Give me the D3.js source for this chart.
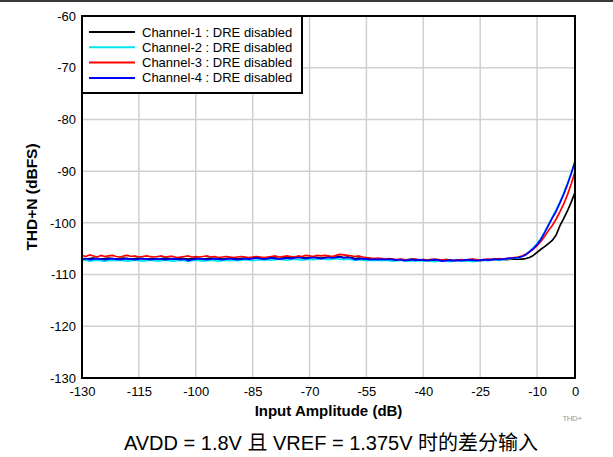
<!DOCTYPE html>
<html><head><meta charset="utf-8">
<script src="https://cdn.jsdelivr.net/npm/d3@7/dist/d3.min.js"></script>
<style>
body{margin:0;background:#fff;}
svg{display:block;font-family:"Liberation Sans",Arial,sans-serif;}
</style></head>
<body><svg id="c" width="613" height="457"></svg>
<script>
// x values: -130 .. 0 dB in 1 dB steps
const xStart = -130, xEnd = 0;
const xTicks = [-130,-115,-100,-85,-70,-55,-40,-25,-10,0];
const yTicks = [-60,-70,-80,-90,-100,-110,-120,-130];
const seriesNames = ["Channel-1 : DRE disabled","Channel-2 : DRE disabled","Channel-3 : DRE disabled","Channel-4 : DRE disabled"];
const seriesColors = ["#000000","#00e5ee","#ff0000","#0000ff"];

const ch1 = [
-106.9,-107.0,-106.9,-106.8,-106.9,-107.0,-106.9,-106.8,-106.9,-107.0,
-106.9,-106.8,-106.9,-107.0,-106.9,-106.8,-106.9,-107.0,-106.9,-106.9,
-107.0,-106.9,-106.8,-106.9,-107.0,-106.9,-106.8,-106.9,-107.0,-106.9,
-106.8,-106.9,-107.0,-106.9,-106.8,-106.9,-106.9,-107.0,-106.9,-106.8,
-106.9,-107.0,-106.9,-106.8,-106.9,-106.8,-106.7,-106.8,-106.9,-106.8,
-106.7,-106.8,-106.9,-106.8,-106.7,-106.8,-106.7,-106.6,-106.7,-106.8,
-106.7,-106.6,-106.7,-106.8,-106.7,-106.6,-106.7,-106.6,-106.5,-106.7,
-106.6,-106.7,-106.9,-106.8,-106.9,-107.0,-106.9,-107.0,-107.1,-107.0,
-107.1,-107.0,-107.1,-107.2,-107.1,-107.2,-107.1,-107.0,-107.1,-107.2,
-107.1,-107.2,-107.1,-107.2,-107.3,-107.2,-107.1,-107.2,-107.3,-107.2,
-107.2,-107.3,-107.2,-107.1,-107.2,-107.3,-107.2,-107.1,-107.1,-107.0,
-107.1,-107.0,-107.1,-107.0,-107.0,
-107.0,-107.0,-106.9,-106.7,-106.3,-105.7,-105.1,-104.6,-104.0,-103.4,-102.4,-100.6,-99.2,-97.7,-96.0,-94.1
];
const ch2 = [
-107.3,-107.2,-107.4,-107.3,-107.2,-107.3,-107.4,-107.3,-107.2,-107.3,
-107.2,-107.3,-107.4,-107.3,-107.2,-107.3,-107.4,-107.3,-107.2,-107.3,
-107.4,-107.3,-107.2,-107.3,-107.4,-107.3,-107.2,-107.3,-107.4,-107.3,
-107.2,-107.3,-107.4,-107.3,-107.2,-107.3,-107.4,-107.3,-107.2,-107.3,
-107.2,-107.3,-107.2,-107.1,-107.2,-107.3,-107.2,-107.1,-107.2,-107.1,
-107.2,-107.1,-107.0,-107.1,-107.2,-107.1,-107.0,-107.1,-107.2,-107.1,
-107.0,-107.1,-107.0,-106.9,-107.0,-107.1,-107.0,-106.9,-107.0,-107.1,
-107.0,-107.1,-107.2,-107.1,-107.2,-107.3,-107.2,-107.3,-107.2,-107.3,
-107.2,-107.3,-107.4,-107.3,-107.2,-107.3,-107.4,-107.3,-107.4,-107.3,
-107.4,-107.3,-107.4,-107.5,-107.4,-107.3,-107.4,-107.5,-107.4,-107.3,
-107.4,-107.3,-107.4,-107.5,-107.4,-107.3,-107.2,-107.3,-107.2,-107.1,
-107.2,-107.1,-107.0,-106.9,-106.8,
-106.8,-106.5,-106.1,-105.5,-104.8,-104.0,-103.0,-101.7,-100.3,-98.9,-97.5,-96.0,-94.3,-92.4,-90.3,-88.0
];
const ch3 = [
-106.3,-106.5,-106.2,-106.4,-106.6,-106.3,-106.5,-106.4,-106.3,-106.5,
-106.6,-106.4,-106.3,-106.5,-106.4,-106.6,-106.5,-106.4,-106.5,-106.6,
-106.5,-106.4,-106.6,-106.5,-106.5,-106.7,-106.6,-106.5,-106.4,-106.6,
-106.5,-106.6,-106.5,-106.4,-106.6,-106.5,-106.7,-106.6,-106.5,-106.6,
-106.7,-106.6,-106.5,-106.6,-106.7,-106.6,-106.5,-106.6,-106.7,-106.6,
-106.5,-106.4,-106.6,-106.5,-106.4,-106.5,-106.6,-106.4,-106.5,-106.3,
-106.4,-106.5,-106.3,-106.4,-106.3,-106.4,-106.5,-106.3,-106.1,-106.2,
-106.3,-106.4,-106.5,-106.4,-106.6,-106.7,-106.8,-106.9,-106.8,-106.9,
-107.0,-106.9,-107.0,-107.1,-107.0,-107.1,-107.2,-107.1,-107.0,-107.2,
-107.1,-107.2,-107.1,-107.0,-107.1,-107.2,-107.1,-107.2,-107.3,-107.2,
-107.1,-107.2,-107.1,-107.0,-107.1,-107.2,-107.1,-107.0,-107.1,-107.0,
-106.9,-107.0,-106.9,-106.8,-106.7,
-106.6,-106.4,-106.1,-105.6,-105.1,-104.4,-103.6,-102.6,-101.5,-100.5,-99.3,-97.9,-96.4,-94.6,-92.5,-90.1
];
const ch4 = [
-107.0,-106.9,-107.1,-107.0,-106.9,-107.0,-107.1,-107.0,-106.9,-107.0,
-107.1,-107.0,-106.9,-107.0,-107.1,-107.0,-106.9,-107.0,-107.1,-107.0,
-106.9,-107.0,-107.1,-107.0,-106.9,-107.0,-107.1,-107.0,-107.3,-107.1,
-107.0,-106.9,-107.0,-107.1,-107.0,-106.9,-107.0,-107.1,-107.0,-106.9,
-107.0,-107.1,-107.0,-106.9,-107.0,-106.9,-106.8,-106.9,-107.0,-106.9,
-106.8,-106.9,-107.0,-106.9,-106.8,-106.9,-106.8,-106.7,-106.8,-106.9,
-106.8,-106.7,-106.8,-106.9,-106.8,-106.7,-106.8,-106.7,-106.6,-106.8,
-106.7,-106.8,-107.1,-107.0,-106.9,-107.0,-107.1,-107.0,-107.1,-107.0,
-107.1,-107.0,-107.1,-107.2,-107.1,-107.3,-107.2,-107.1,-107.2,-107.1,
-107.2,-107.3,-107.2,-107.1,-107.2,-107.4,-107.3,-107.2,-107.3,-107.2,
-107.3,-107.2,-107.1,-107.2,-107.3,-107.2,-107.1,-107.2,-107.1,-107.0,
-107.1,-107.0,-106.9,-106.8,-106.8,
-106.7,-106.5,-106.2,-105.6,-105.0,-104.2,-103.2,-101.9,-100.5,-99.1,-97.8,-96.2,-94.5,-92.6,-90.5,-88.2
];
const series = [ch1, ch2, ch3, ch4];
const xValues = d3.range(xStart, xEnd + 1, 1);

const svg = d3.select("#c");
const m = {l:82, r:575, t:16, b:378};
const x = d3.scaleLinear().domain([-130,0]).range([m.l,m.r]);
const y = d3.scaleLinear().domain([-130,-60]).range([m.b,m.t]);

// top rule
svg.append("rect").attr("x",0).attr("y",0).attr("width",613).attr("height",2).attr("fill","#3a3a3a");

// grid
const g = svg.append("g");
g.selectAll("line.vx").data(xTicks).join("line")
  .attr("x1",d=>x(d)).attr("x2",d=>x(d)).attr("y1",m.t).attr("y2",m.b)
  .attr("stroke","#d0d0d0").attr("stroke-width",1.5);
g.selectAll("line.hy").data(yTicks).join("line")
  .attr("y1",d=>y(d)).attr("y2",d=>y(d)).attr("x1",m.l).attr("x2",m.r)
  .attr("stroke","#d0d0d0").attr("stroke-width",1.5);

// axes labels via d3 axes
const xAxis = d3.axisBottom(x).tickValues(xTicks).tickSize(0).tickPadding(9).tickFormat(d=>d);
const yAxis = d3.axisLeft(y).tickValues(yTicks).tickSize(0).tickPadding(6).tickFormat(d=>d);
const xa = svg.append("g").attr("transform",`translate(0,${m.b})`).call(xAxis);
const ya = svg.append("g").attr("transform",`translate(${m.l},0)`).call(yAxis);
[xa,ya].forEach(a=>{a.select(".domain").remove();a.selectAll("text").attr("font-size",13).attr("fill","#000").attr("font-family","Liberation Sans, Arial, sans-serif");});

// lines
const line = d3.line().x((d,i)=>x(xValues[i])).y(d=>y(d));
series.forEach((s,i)=>{
  svg.append("path").datum(s).attr("d",line).attr("fill","none")
    .attr("stroke",seriesColors[i]).attr("stroke-width",1.7).attr("stroke-linejoin","round");
});

// frame
svg.append("rect").attr("x",m.l).attr("y",m.t).attr("width",m.r-m.l).attr("height",m.b-m.t)
  .attr("fill","none").attr("stroke","#000").attr("stroke-width",2);

// legend
const lg = svg.append("g");
lg.append("rect").attr("x",m.l).attr("y",m.t).attr("width",220).attr("height",77)
  .attr("fill","#fff").attr("stroke","#000").attr("stroke-width",2);
seriesNames.forEach((n,i)=>{
  const yy = 32 + i*15.3;
  lg.append("line").attr("x1",89).attr("x2",135).attr("y1",yy).attr("y2",yy)
    .attr("stroke",seriesColors[i]).attr("stroke-width",2);
  lg.append("text").attr("x",142).attr("y",yy+4.5).attr("font-size",13).text(n);
});

// axis titles
svg.append("text").attr("x",(m.l+m.r)/2).attr("y",416).attr("text-anchor","middle")
  .attr("font-size",15).attr("font-weight","bold").text("Input Amplitude (dB)");
svg.append("text").attr("transform",`translate(37,${(m.t+m.b)/2}) rotate(-90)`).attr("text-anchor","middle")
  .attr("font-size",15.5).attr("font-weight","bold").text("THD+N (dBFS)");
svg.append("text").attr("x",572).attr("y",421).attr("text-anchor","middle")
  .attr("font-size",8).attr("fill","#999").attr("letter-spacing","-0.5").text("THD+");

// caption
svg.append("text").attr("x",331).attr("y",450).attr("text-anchor","middle")
  .attr("font-size",20).attr("font-family","Liberation Sans, 'Noto Sans CJK SC', sans-serif")
  .text("AVDD = 1.8V 且 VREF = 1.375V 时的差分输入");
</script></body></html>
